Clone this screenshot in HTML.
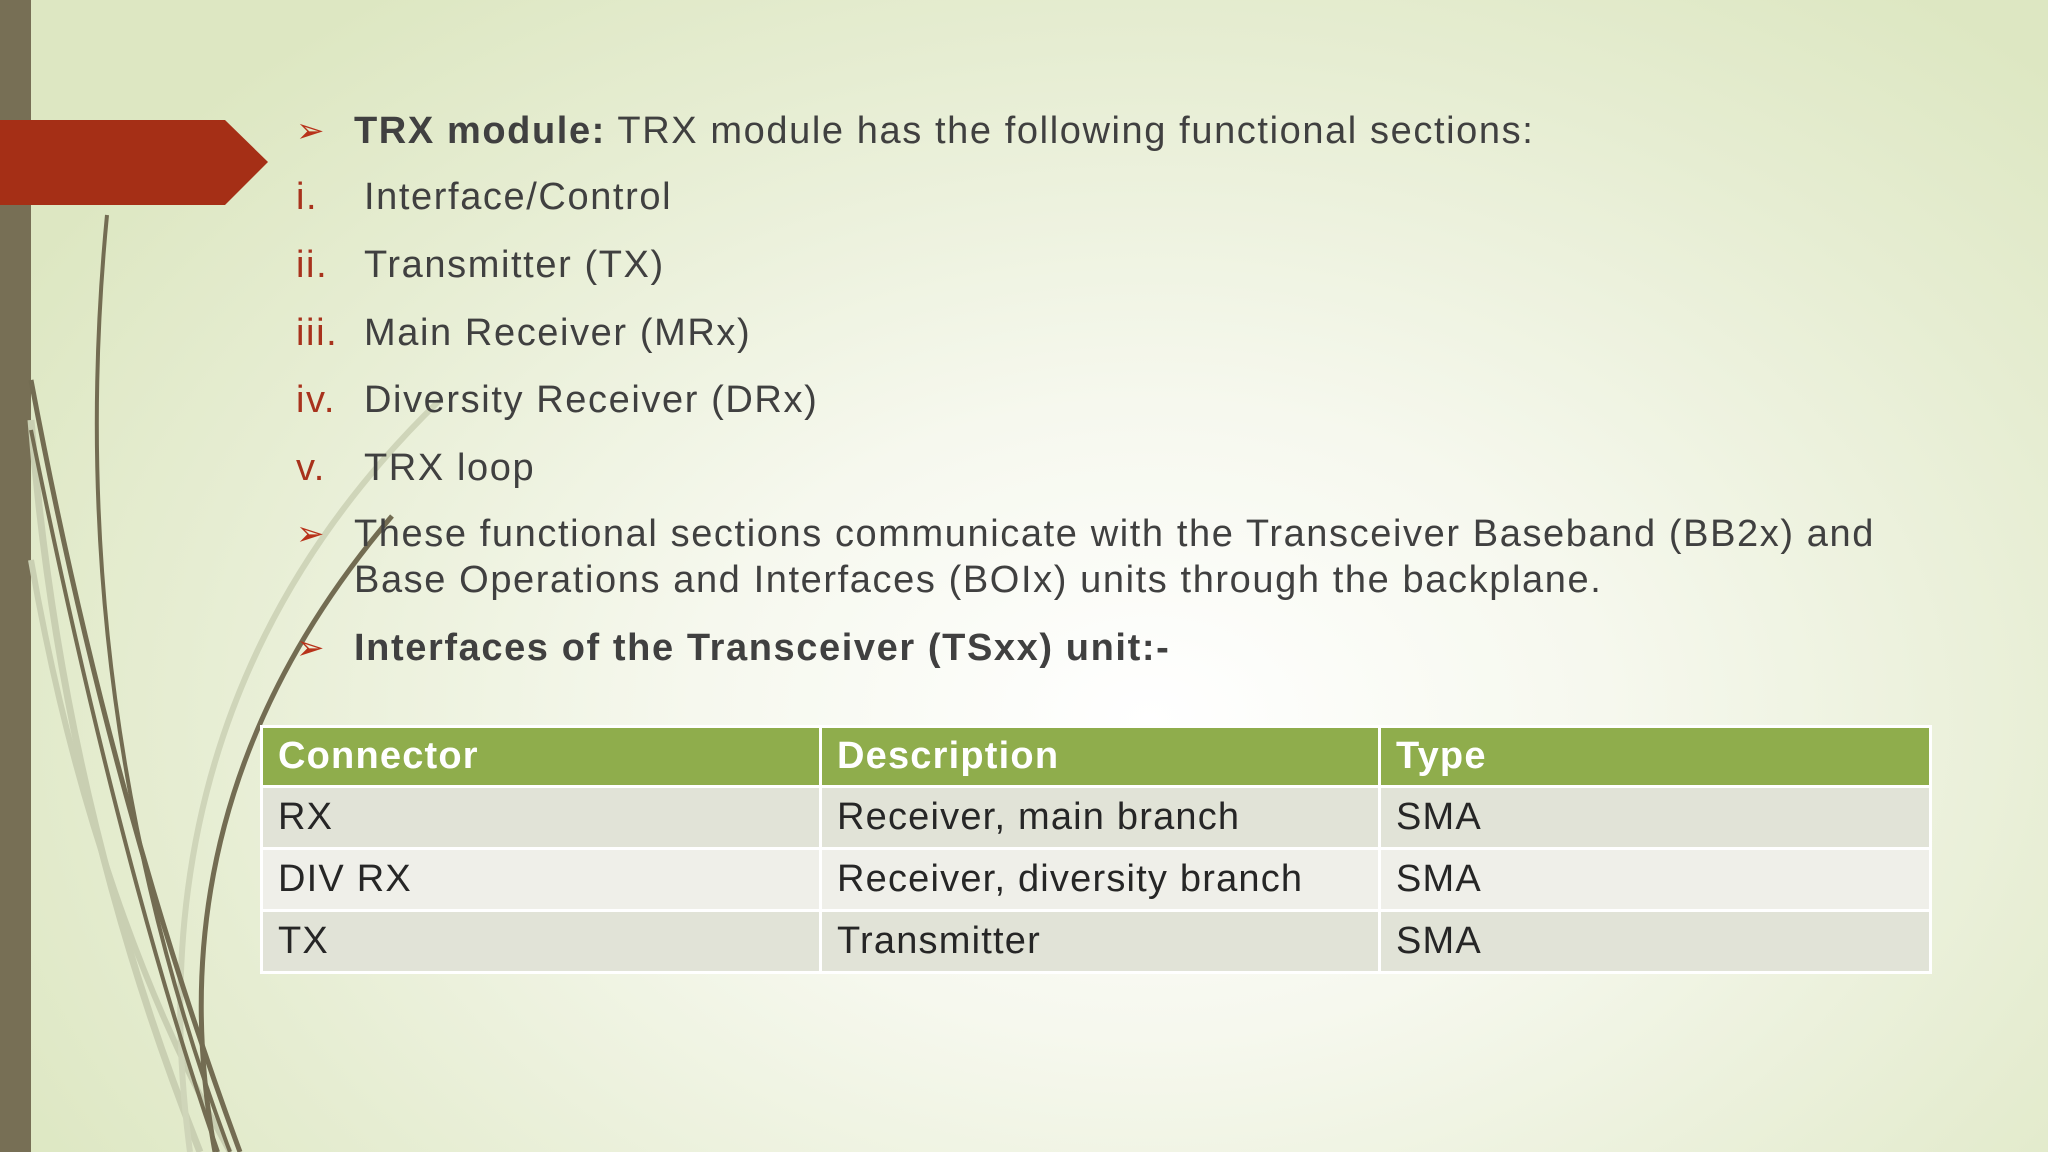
<!DOCTYPE html>
<html><head><meta charset="utf-8"><style>
html,body{margin:0;padding:0;width:2048px;height:1152px;overflow:hidden;}
body{position:relative;background:radial-gradient(ellipse 1300px 900px at 1150px 720px,#ffffff 0%,#f6f8ee 35%,#e6edd2 75%,#dde7c2 100%);font-family:"Liberation Sans",sans-serif;color:#404040;}
.t{position:absolute;font-size:38px;white-space:nowrap;line-height:46px;letter-spacing:1.6px;}
.n{color:#a8321c;position:absolute;left:296px;}
.a{position:absolute;left:296px;color:#b8321a;font-size:34px;line-height:46px;}
table{position:absolute;left:260px;top:725px;width:1672px;border-collapse:collapse;font-size:38px;letter-spacing:1.2px;}
td{border:3px solid #fff;padding:0 0 0 15px;height:59px;color:#262626;}
tr.h td{background:#8fad4c;color:#fff;font-weight:bold;height:57px;}
tr.r1 td{background:#e1e3d7;} tr.r2 td{background:#efefe9;}
</style></head><body>
<svg width="2048" height="1152" style="position:absolute;left:0;top:0">
<rect x="0" y="0" width="31" height="1152" fill="#776f55"/>
<path d="M31 420 Q60 800 200 1152" stroke="#c9cfb2" stroke-width="7" fill="none"/>
<path d="M31 560 Q90 900 230 1152" stroke="#c9cfb2" stroke-width="6" fill="none"/>
<path d="M440 400 Q130 700 190 1152" stroke="#cfd5b9" stroke-width="6" fill="none"/>
<path d="M107 215 Q60 700 230 1152" stroke="#736c52" stroke-width="4" fill="none"/>
<path d="M31 380 Q110 800 240 1152" stroke="#736c52" stroke-width="5" fill="none"/>
<path d="M31 430 Q120 870 218 1152" stroke="#736c52" stroke-width="4" fill="none"/>
<path d="M392 516 Q150 800 215 1152" stroke="#736c52" stroke-width="5" fill="none"/>
<path d="M225 120 L268 162 L225 205 L0 205 L0 120 Z" fill="#a52f16"/>
</svg>
<div class="a" style="top:108px">&#10146;</div>
<div class="t" style="left:354px;top:108px"><b>TRX module:</b> TRX module has the following functional sections:</div>
<div class="t n" style="top:174px">i.</div><div class="t" style="left:364px;top:174px">Interface/Control</div>
<div class="t n" style="top:242px">ii.</div><div class="t" style="left:364px;top:242px">Transmitter (TX)</div>
<div class="t n" style="top:310px">iii.</div><div class="t" style="left:364px;top:310px">Main Receiver (MRx)</div>
<div class="t n" style="top:377px">iv.</div><div class="t" style="left:364px;top:377px">Diversity Receiver (DRx)</div>
<div class="t n" style="top:445px">v.</div><div class="t" style="left:364px;top:445px">TRX loop</div>
<div class="a" style="top:511px">&#10146;</div>
<div class="t" style="left:354px;top:511px">These functional sections communicate with the Transceiver Baseband (BB2x) and<br>Base Operations and Interfaces (BOIx) units through the backplane.</div>
<div class="a" style="top:625px">&#10146;</div>
<div class="t" style="left:354px;top:625px"><b>Interfaces of the Transceiver (TSxx) unit:-</b></div>
<table>
<tr class="h"><td style="width:541px">Connector</td><td style="width:541px">Description</td><td>Type</td></tr>
<tr class="r1"><td>RX</td><td>Receiver, main branch</td><td>SMA</td></tr>
<tr class="r2"><td>DIV RX</td><td>Receiver, diversity branch</td><td>SMA</td></tr>
<tr class="r1"><td>TX</td><td>Transmitter</td><td>SMA</td></tr>
</table>
</body></html>
